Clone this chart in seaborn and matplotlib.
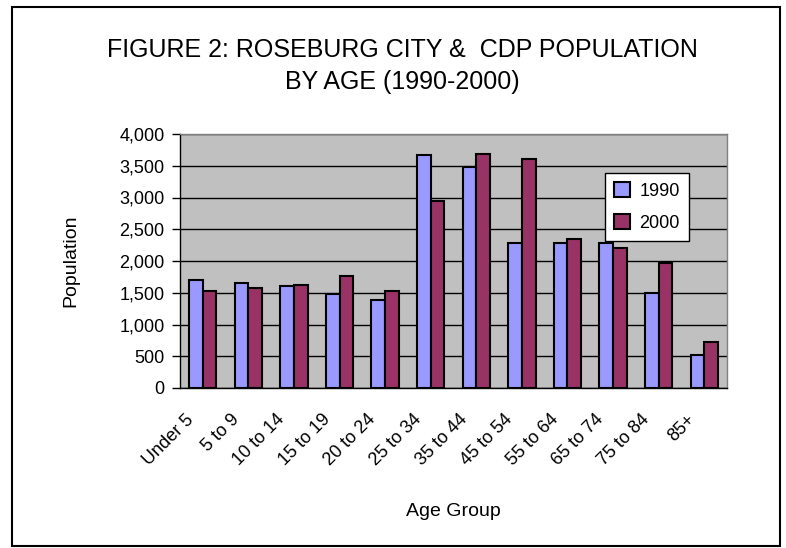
import pandas as pd
import numpy as np
import matplotlib
matplotlib.use("Agg")
import matplotlib.pyplot as plt
import matplotlib.transforms as mtransforms
from matplotlib.patches import Rectangle
import seaborn as sns

# --- datos ---
grupos_edad = ["Under 5", "5 to 9", "10 to 14", "15 to 19", "20 to 24", "25 to 34",
               "35 to 44", "45 to 54", "55 to 64", "65 to 74", "75 to 84", "85+"]
poblacion_1990 = [1700, 1653, 1605, 1474, 1389, 3663, 3474, 2284, 2284, 2284, 1495, 521]
poblacion_2000 = [1521, 1574, 1626, 1758, 1521, 2947, 3684, 3605, 2342, 2205, 1968, 732]
anios = ["1990", "2000"]
colores = {"1990": "#9999FF", "2000": "#993366"}

df = pd.DataFrame({
    "Age Group": grupos_edad * 2,
    "Population": poblacion_1990 + poblacion_2000,
    "Year": [anios[0]] * len(grupos_edad) + [anios[1]] * len(grupos_edad),
})

sns.set_theme(style="white")
plt.rcParams["font.family"] = ["Liberation Sans", "DejaVu Sans"]
plt.rcParams["text.color"] = "black"
plt.rcParams["axes.labelcolor"] = "black"
plt.rcParams["xtick.color"] = "black"
plt.rcParams["ytick.color"] = "black"

fig = plt.figure(figsize=(7.86, 5.48), dpi=100)
ax = fig.add_axes([180 / 786, 1 - 388 / 548, (727 - 180) / 786, (388 - 134) / 548])

sns.barplot(data=df, x="Age Group", y="Population", hue="Year", order=grupos_edad,
            hue_order=anios, palette=colores, saturation=1, width=0.6, gap=0,
            edgecolor="black", linewidth=1.5, ax=ax)

ax.set_facecolor("#C0C0C0")
ax.set_xlim(-0.5, len(grupos_edad) - 0.5)
ax.set_ylim(0, 4000)
ax.set_yticks(np.arange(0, 4001, 500))
ax.set_yticklabels([f"{v:,}" for v in range(0, 4001, 500)], fontsize=13)
ax.yaxis.grid(True, color="black", linewidth=1)
ax.set_axisbelow(True)

# marcas del eje x entre categorias
ax.set_xticks(np.arange(-0.5, len(grupos_edad), 1), minor=True)
ax.tick_params(axis="x", which="major", length=0, pad=21)
ax.tick_params(axis="x", which="minor", length=5, width=1, color="black", direction="out")
ax.tick_params(axis="y", length=6, width=1, color="black", direction="out", left=True, pad=5)
desplazamiento = mtransforms.ScaledTranslation(-12 / 100, 0, fig.dpi_scale_trans)
for etiqueta in ax.get_xticklabels():
    etiqueta.set_rotation(45)
    etiqueta.set_ha("right")
    etiqueta.set_va("center")
    etiqueta.set_rotation_mode("anchor")
    etiqueta.set_fontsize(13)
    etiqueta.set_transform(etiqueta.get_transform() + desplazamiento)

for lado in ["left", "bottom"]:
    ax.spines[lado].set_color("black")
    ax.spines[lado].set_linewidth(1)
for lado in ["top", "right"]:
    ax.spines[lado].set_color("#808080")
    ax.spines[lado].set_linewidth(1)

ax.set_xlabel("Age Group", fontsize=14, labelpad=24)
ax.set_ylabel("Population", fontsize=14, labelpad=29)

leyenda = ax.legend(loc="upper left", bbox_to_anchor=(0.777, 0.846), fontsize=13,
                    frameon=True, fancybox=False, edgecolor="black", framealpha=1,
                    handlelength=0.9, handleheight=0.9, handletextpad=0.5,
                    borderpad=0.5, labelspacing=0.8, borderaxespad=0)
leyenda.get_frame().set_linewidth(1)

fig.text(402 / 786, 1 - 66 / 548, "FIGURE 2: ROSEBURG CITY &  CDP POPULATION\nBY AGE (1990-2000)",
         ha="center", va="center", fontsize=18, linespacing=1.4)

# marco exterior
fig.patches.append(Rectangle((12 / 786, 0.003), (780 - 12) / 786, 1 - 7 / 548 - 0.003,
                             transform=fig.transFigure, fill=False,
                             edgecolor="black", linewidth=1.5))

fig.savefig("out.png", dpi=100)
